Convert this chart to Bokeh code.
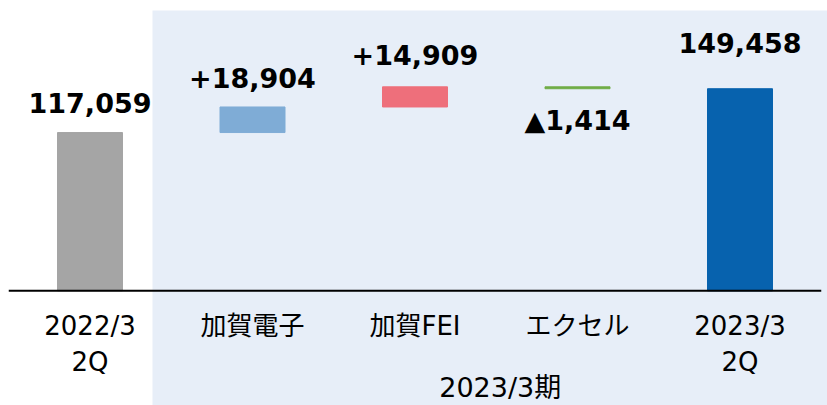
from bokeh.plotting import figure
from bokeh.models import Range1d, BoxAnnotation, ColumnDataSource
from bokeh.core.properties import value
from bokeh.embed import file_html
from bokeh.resources import INLINE

# ---- data ----
categories = ["2022/3\n2Q", "加賀電子", "加賀FEI", "エクセル", "2023/3\n2Q"]
values = [117059, 18904, 14909, -1414, 149458]
kinds = ["total", "delta", "delta", "delta", "total"]
group_label = "2023/3期"

# ---- styles ----
colors = ["#A5A5A5", "#7FACD6", "#EE6F7B", "#70AD47", "#0762AE"]
label_offsets = [-30, -29, -32, 32, -46]
FONT = "DejaVu Sans, Noto Sans CJK JP"

bottoms, tops, anchors, labels = [], [], [], []
running = 0
for v, k in zip(values, kinds):
    if k == "total":
        b, t = 0, v
        running = v
        labels.append(f"{v:,}")
    else:
        b = running
        running += v
        b, t = min(b, running), max(b, running)
        labels.append(f"+{v:,}" if v > 0 else f"▲{-v:,}")
    bottoms.append(b)
    tops.append(t)
    anchors.append(t if v >= 0 else b)

xs = list(range(len(categories)))
src = ColumnDataSource(dict(x=xs, bottom=bottoms, top=tops, color=colors,
                            anchor=anchors, label=labels, off=label_offsets,
                            cat=categories, zero=[0] * len(xs)))

W, H = 827, 405
step = 162.5
x0 = -89.5 / step
p = figure(width=W, height=H, output_backend="svg", toolbar_location=None,
           x_range=Range1d(x0, x0 + W / step),
           y_range=Range1d(-84840, 214720), min_border=0)
p.xaxis.visible = False
p.yaxis.visible = False
p.xgrid.visible = False
p.ygrid.visible = False
p.outline_line_color = None
p.background_fill_color = "white"
p.border_fill_color = "white"

# highlighted period panel
p.add_layout(BoxAnnotation(left=0.3846, top=207320, fill_color="#E7EEF8",
                           fill_alpha=1.0, line_color=None, level="underlay"))

p.vbar(x="x", bottom="bottom", top="top", width=0.4, color="color", source=src)

# baseline axis line
p.segment(x0=[-0.5], y0=[0], x1=[len(categories) - 0.5], y1=[0],
          line_color="black", line_width=2)

# value labels
p.text(x="x", y="anchor", text="label", y_offset="off", source=src,
       text_font=value(FONT), text_font_style="bold", text_font_size="27px",
       text_align="center", text_baseline="alphabetic", text_color="black")

# category labels
p.text(x="x", y="zero", text="cat", source=src, y_offset=20,
       text_font=value(FONT), text_font_size="26px", text_line_height=1.2,
       text_align="center", text_baseline="top", text_color="black")

# group label
p.text(x=[(1 + len(categories) - 1) / 2], y=[0], text=[group_label],
       y_offset=97, x_offset=4,
       text_font=value(FONT), text_font_size="27px",
       text_align="center", text_baseline="alphabetic", text_color="black")

open("out.html", "w").write(file_html(p, INLINE))
